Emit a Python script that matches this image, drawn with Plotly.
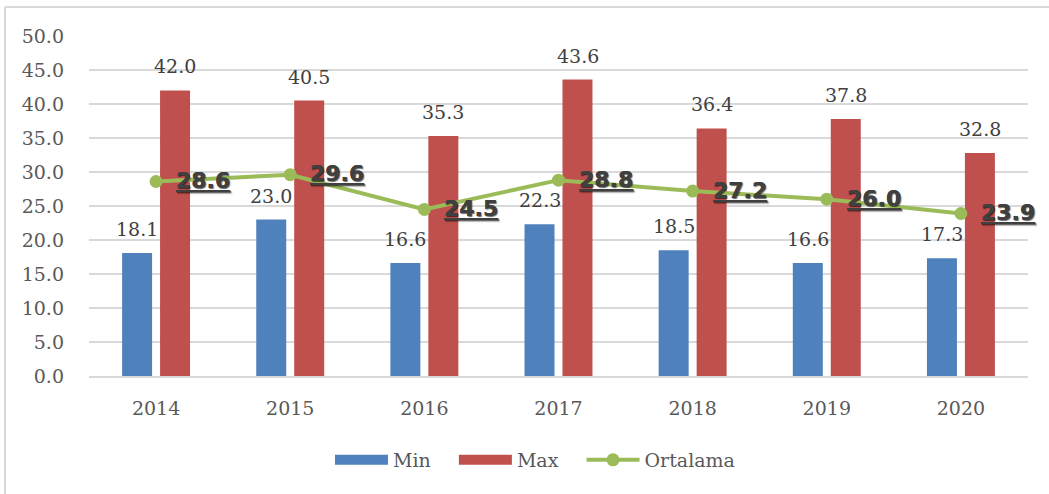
import plotly.graph_objects as go

years = ["2014", "2015", "2016", "2017", "2018", "2019", "2020"]
min_vals = [18.1, 23.0, 16.6, 22.3, 18.5, 16.6, 17.3]
max_vals = [42.0, 40.5, 35.3, 43.6, 36.4, 37.8, 32.8]
avg_vals = [28.6, 29.6, 24.5, 28.8, 27.2, 26.0, 23.9]
y_ticks = [0, 5, 10, 15, 20, 25, 30, 35, 40, 45, 50]

BLUE = "#4F81BD"
RED = "#C0504D"
GREEN = "#9BBB59"
SERIF = "DejaVu Serif"
TXT = "#404040"
PAD = "\u00a0" * 3

fig = go.Figure()
fig.add_trace(go.Bar(x=years, y=min_vals, name="Min", marker_color=BLUE,
                     marker_line_width=0, showlegend=False))
fig.add_trace(go.Bar(x=years, y=max_vals, name="Max", marker_color=RED,
                     marker_line_width=0, showlegend=False))
fig.add_trace(go.Scatter(x=years, y=avg_vals, name="Ortalama", mode="lines+markers",
                         line=dict(color=GREEN, width=4),
                         marker=dict(color=GREEN, size=13), showlegend=False))

# legend proxies
fig.add_trace(go.Scatter(x=[None], y=[None], name="Min" + PAD, mode="lines",
                         line=dict(color=BLUE, width=13)))
fig.add_trace(go.Scatter(x=[None], y=[None], name="Max" + PAD, mode="lines",
                         line=dict(color=RED, width=13)))
fig.add_trace(go.Scatter(x=[None], y=[None], name="Ortalama", mode="lines+markers",
                         line=dict(color=GREEN, width=4),
                         marker=dict(color=GREEN, size=13)))

annotations = []
for i, v in enumerate(min_vals):
    annotations.append(dict(x=i, y=v, text=f"{v:.1f}", showarrow=False,
                            xanchor="center", yanchor="bottom", xshift=-19, yshift=11,
                            font=dict(family=SERIF, size=19, color=TXT)))
for i, v in enumerate(max_vals):
    annotations.append(dict(x=i, y=v, text=f"{v:.1f}", showarrow=False,
                            xanchor="center", yanchor="bottom", xshift=19, yshift=11,
                            font=dict(family=SERIF, size=19, color=TXT)))
for i, v in enumerate(avg_vals):
    annotations.append(dict(x=i, y=v, text=f"<b><u>{v:.1f}</u></b>", showarrow=False,
                            xanchor="left", yanchor="middle", xshift=18, yshift=1,
                            font=dict(family="DejaVu Sans", size=22, color=TXT,
                                      shadow="1px 1px 1px rgba(0,0,0,0.35)")))

L, R, T, B = 89, 21, 36, 118
W, H = 1049, 494
pw, ph = W - L - R, H - T - B
# chart frame (left and top border)
shapes = [
    dict(type="line", xref="paper", yref="paper",
         x0=(5 - L) / pw, x1=(5 - L) / pw, y0=(H - 7 - B) / ph, y1=(0 - B) / ph,
         line=dict(color="#D9D9D9", width=2)),
    dict(type="line", xref="paper", yref="paper",
         x0=(5 - L) / pw, x1=(W - L) / pw, y0=(H - 7 - B) / ph, y1=(H - 7 - B) / ph,
         line=dict(color="#D9D9D9", width=2)),
]

fig.update_layout(
    width=W, height=H,
    margin=dict(l=L, r=R, t=T, b=B),
    paper_bgcolor="white", plot_bgcolor="white",
    barmode="group", bargap=0.434, bargroupgap=0.21,
    font=dict(family=SERIF, size=19, color="#595959"),
    xaxis=dict(type="category", categoryorder="array", categoryarray=years,
               range=[-0.5, len(years) - 0.5],
               showgrid=False, showline=True, linecolor="#D9D9D9", linewidth=2,
               ticks="", ticklabelstandoff=14, tickfont=dict(family=SERIF, size=19, color="#595959")),
    yaxis=dict(range=[0, 50], tickvals=y_ticks, tickformat=".1f",
               showgrid=True, gridcolor="#D9D9D9", gridwidth=2, zeroline=False,
               showline=False, ticks="", ticklabelstandoff=24,
               tickfont=dict(family=SERIF, size=19, color="#595959")),
    legend=dict(orientation="h", x=(330 - L) / pw, xanchor="left",
                y=(H - 460 - B) / ph, yanchor="middle",
                itemwidth=53,
                font=dict(family=SERIF, size=19, color="#595959"),
                traceorder="normal"),
    annotations=annotations,
    shapes=shapes,
)

fig.write_html("out.html", config={"displayModeBar": False},
               post_script="document.body.style.margin='0';document.body.style.overflow='hidden';")
